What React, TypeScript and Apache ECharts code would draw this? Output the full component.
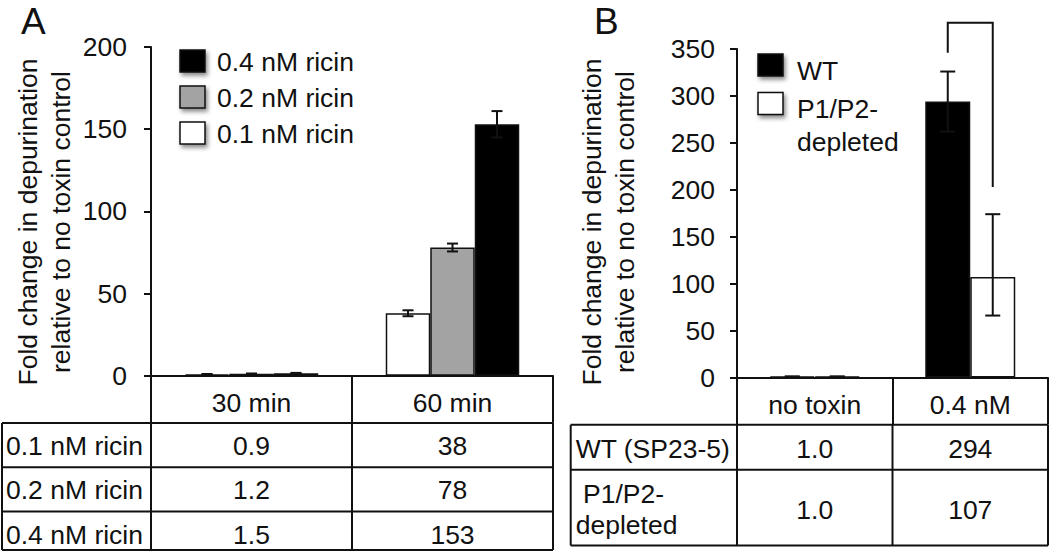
import React, { useEffect, useRef } from 'react';
import * as echarts from 'echarts';

// ---------------- Panel A data ----------------
const timeCategories = ['30 min', '60 min'];
const ricinNames = ['0.1 nM ricin', '0.2 nM ricin', '0.4 nM ricin'];
const ricin01 = [0.9, 38];
const ricin02 = [1.2, 78];
const ricin04 = [1.5, 153];
const ricin01Err = [0.15, 1.8];
const ricin02Err = [0.15, 2.4];
const ricin04Err = [0.2, 8];
const ricinColors = ['#ffffff', '#a3a3a3', '#000000'];
const yMaxA = 200;

// ---------------- Panel B data ----------------
const strainCategories = ['no toxin', '0.4 nM'];
const strainNames = ['WT', 'P1/P2-depleted'];
const strainLegendLabels = ['WT', 'P1/P2-\ndepleted'];
const strainTableLabels = ['WT (SP23-5)', ' P1/P2-\ndepleted'];
const wtValues = [1.0, 294];
const p1p2Values = [1.0, 107];
const wtErrLow = [1.0, 262];
const wtErrHigh = [1.0, 326];
const p1p2ErrLow = [1.0, 66];
const p1p2ErrHigh = [1.0, 174];
const strainColors = ['#000000', '#ffffff'];
const yMaxB = 350;
const tickStep = 50;
// significance bracket levels: left foot, top, right foot
const bracketLevels = [346, 378, 203];

const panelLetters = ['A', 'B'];
const yTitle = 'Fold change in depurination\nrelative to no toxin control';

// ---------------- layout / style ----------------
const W = 1050;
const H = 552;
const FONT = "'Liberation Sans', Arial, Helvetica, sans-serif";
const FS = 26.5;
const INK = '#111';
const LW = 2;
const gA = { left: 151, top: 47, width: 402, height: 328.7 };
const gB = { left: 737, top: 49, width: 311, height: 328.5 };
const BAR_A = 44.5;
const BAR_B = 45;

const fmt = (v: number) => (v < 10 ? v.toFixed(1) : String(Math.round(v)));

const line = (x1: number, y1: number, x2: number, y2: number) => ({
  type: 'line',
  silent: true,
  shape: { x1, y1, x2, y2 },
  style: { stroke: INK, lineWidth: LW },
});

const text = (
  x: number,
  y: number,
  t: string,
  align: string = 'center',
  extra: any = {}
) => ({
  type: 'text',
  silent: true,
  x,
  y,
  style: {
    text: t,
    fontSize: FS,
    fontFamily: FONT,
    fill: INK,
    align,
    verticalAlign: 'middle',
    ...extra,
  },
});

const errorRender = (n: number, barW: number, cap: number) => (params: any, api: any) => {
  const c = api.value(0);
  const s = api.value(1);
  const lo = api.coord([c, api.value(2)]);
  const hi = api.coord([c, api.value(3)]);
  const x = lo[0] + (s - (n - 1) / 2) * barW;
  const st = { stroke: INK, lineWidth: LW };
  return {
    type: 'group',
    children: [
      { type: 'line', shape: { x1: x, y1: lo[1], x2: x, y2: hi[1] }, style: st },
      { type: 'line', shape: { x1: x - cap / 2, y1: lo[1], x2: x + cap / 2, y2: lo[1] }, style: st },
      { type: 'line', shape: { x1: x - cap / 2, y1: hi[1], x2: x + cap / 2, y2: hi[1] }, style: st },
    ],
  };
};

export default function App() {
  const ref = useRef<HTMLDivElement>(null);

  useEffect(() => {
    const chart = echarts.init(ref.current!, null, { renderer: 'svg', width: W, height: H });

    const ricinValues = [ricin01, ricin02, ricin04];
    const ricinErrs = [ricin01Err, ricin02Err, ricin04Err];
    const strainValues = [wtValues, p1p2Values];
    const strainLow = [wtErrLow, p1p2ErrLow];
    const strainHigh = [wtErrHigh, p1p2ErrHigh];

    const errDataA: number[][] = [];
    timeCategories.forEach((_, c) =>
      ricinValues.forEach((vals, s) => {
        errDataA.push([c, s, vals[c] - ricinErrs[s][c], vals[c] + ricinErrs[s][c]]);
      })
    );
    const errDataB: number[][] = [];
    strainCategories.forEach((_, c) =>
      strainValues.forEach((_v, s) => {
        errDataB.push([c, s, strainLow[s][c], strainHigh[s][c]]);
      })
    );

    const valueAxis = (gi: number, max: number, margin: number) => ({
      type: 'value',
      gridIndex: gi,
      min: 0,
      max,
      interval: tickStep,
      axisLine: { show: true, lineStyle: { color: INK, width: LW } },
      axisTick: { show: true, length: 7, lineStyle: { color: INK, width: LW } },
      axisLabel: { fontSize: FS, fontFamily: FONT, color: INK, margin },
      splitLine: { show: false },
    });

    const catAxis = (gi: number, data: string[]) => ({
      type: 'category',
      gridIndex: gi,
      data,
      axisLine: { show: true, lineStyle: { color: INK, width: LW } },
      axisTick: {
        show: true,
        alignWithLabel: false,
        interval: 0,
        length: 47,
        lineStyle: { color: INK, width: LW },
      },
      axisLabel: { interval: 0, fontSize: FS, fontFamily: FONT, color: INK, margin: 14 },
    });

    // ---------- graphics: letters, titles, legends, tables ----------
    const g: any[] = [];
    g.push(text(21, 21, panelLetters[0], 'left', { fontSize: 37 }));
    g.push(text(594, 21, panelLetters[1], 'left', { fontSize: 37 }));

    const rotTitle = (x: number, y: number) => ({
      ...text(x, y, yTitle, 'center', { lineHeight: 33 }),
      rotation: Math.PI / 2,
    });
    g.push(rotTitle(44, 222));
    g.push(rotTitle(608, 222));

    const legendBox = (x: number, y: number, w: number, h: number, fill: string) => ({
      type: 'rect',
      silent: true,
      shape: { x, y, width: w, height: h },
      style: {
        fill,
        stroke: INK,
        lineWidth: 1.5,
        shadowBlur: 4,
        shadowOffsetX: 2,
        shadowOffsetY: 3,
        shadowColor: 'rgba(0,0,0,0.45)',
      },
    });

    // Legend A (reverse order)
    [2, 1, 0].forEach((s, k) => {
      const top = 50 + k * 36;
      g.push(legendBox(180, top, 25, 22, ricinColors[s]));
      g.push(text(217, top + 11.5, ricinNames[s], 'left'));
    });
    // Legend B
    strainLegendLabels.forEach((lab, s) => {
      const top = 54 + s * 38.5;
      g.push(legendBox(758, top, 25, 22, strainColors[s]));
      g.push(text(797, top + 0.5, lab, 'left', { verticalAlign: 'top', lineHeight: 32.5 }));
    });

    // Table A
    const tLeftA = 2;
    const headA = 423;
    const rowHA = 44.2;
    const bottomA = 550;
    const rightA = gA.left + gA.width;
    const bandA = gA.width / timeCategories.length;
    g.push(line(tLeftA, headA, rightA, headA));
    ricinNames.forEach((_, i) => {
      if (i > 0) g.push(line(tLeftA, headA + i * rowHA, rightA, headA + i * rowHA));
    });
    g.push(line(tLeftA, bottomA, rightA, bottomA));
    [tLeftA, ...timeCategories.map((_, c) => gA.left + c * bandA), rightA].forEach((x) =>
      g.push(line(x, headA, x, bottomA))
    );
    ricinNames.forEach((name, i) => {
      const cy = headA + i * rowHA + rowHA / 2 + 1;
      g.push(text(tLeftA + 4, cy, name, 'left'));
      timeCategories.forEach((_, c) => {
        g.push(text(gA.left + (c + 0.5) * bandA, cy, fmt(ricinValues[i][c])));
      });
    });

    // Table B
    const tLeftB = 570.7;
    const headB = 424.8;
    const rowBottomsB = [469.8, 545.5];
    const rightB = gB.left + gB.width;
    const bandB = gB.width / strainCategories.length;
    g.push(line(tLeftB, headB, rightB, headB));
    rowBottomsB.forEach((y) => g.push(line(tLeftB, y, rightB, y)));
    [tLeftB, ...strainCategories.map((_, c) => gB.left + c * bandB), rightB].forEach((x) =>
      g.push(line(x, headB, x, rowBottomsB[rowBottomsB.length - 1]))
    );
    strainTableLabels.forEach((lab, i) => {
      const top = i === 0 ? headB : rowBottomsB[i - 1];
      const cy = (top + rowBottomsB[i]) / 2 + 2;
      g.push(text(tLeftB + 5, cy, lab, 'left', { lineHeight: 31 }));
      strainCategories.forEach((_, c) => {
        g.push(text(gB.left + (c + 0.5) * bandB, cy, fmt(strainValues[i][c])));
      });
    });

    const option: any = {
      animation: false,
      backgroundColor: '#ffffff',
      textStyle: { fontFamily: FONT },
      grid: [
        { ...gA, containLabel: false },
        { ...gB, containLabel: false },
      ],
      xAxis: [catAxis(0, timeCategories), catAxis(1, strainCategories)],
      yAxis: [valueAxis(0, yMaxA, 24), valueAxis(1, yMaxB, 22)],
      series: [
        ...ricinNames.map((name, s) => ({
          type: 'bar',
          name,
          xAxisIndex: 0,
          yAxisIndex: 0,
          data: ricinValues[s],
          barWidth: BAR_A,
          barGap: '0%',
          itemStyle: { color: ricinColors[s], borderColor: INK, borderWidth: 1.5 },
          silent: true,
        })),
        {
          type: 'custom',
          name: 'errA',
          xAxisIndex: 0,
          yAxisIndex: 0,
          data: errDataA,
          encode: { x: 0, y: [2, 3] },
          renderItem: errorRender(ricinNames.length, BAR_A, 11),
          clip: false,
          z: 5,
          silent: true,
        },
        ...strainNames.map((name, s) => ({
          type: 'bar',
          name,
          xAxisIndex: 1,
          yAxisIndex: 1,
          data: strainValues[s],
          barWidth: BAR_B,
          barGap: '0%',
          itemStyle: { color: strainColors[s], borderColor: INK, borderWidth: 1.5 },
          silent: true,
        })),
        {
          type: 'custom',
          name: 'errB',
          xAxisIndex: 1,
          yAxisIndex: 1,
          data: errDataB,
          encode: { x: 0, y: [2, 3] },
          renderItem: errorRender(strainNames.length, BAR_B, 15),
          clip: false,
          z: 5,
          silent: true,
        },
        {
          type: 'custom',
          name: 'bracket',
          xAxisIndex: 1,
          yAxisIndex: 1,
          data: [[1, ...bracketLevels]],
          encode: { x: 0, y: [1, 2, 3] },
          clip: false,
          z: 5,
          silent: true,
          renderItem: (params: any, api: any) => {
            const c = api.value(0);
            const xc = api.coord([c, 0])[0];
            const xl = xc - BAR_B / 2;
            const xr = xc + BAR_B / 2;
            const yl = api.coord([c, api.value(1)])[1];
            const yt = api.coord([c, api.value(2)])[1];
            const yr = api.coord([c, api.value(3)])[1];
            return {
              type: 'polyline',
              shape: { points: [[xl, yl], [xl, yt], [xr, yt], [xr, yr]] },
              style: { stroke: INK, lineWidth: LW, fill: 'none' },
            };
          },
        },
      ],
      graphic: g,
    };

    chart.setOption(option);
    return () => chart.dispose();
  }, []);

  return (
    <div
      ref={ref}
      style={{ position: 'fixed', left: 0, top: 0, width: W, height: H, background: '#fff' }}
    />
  );
}
